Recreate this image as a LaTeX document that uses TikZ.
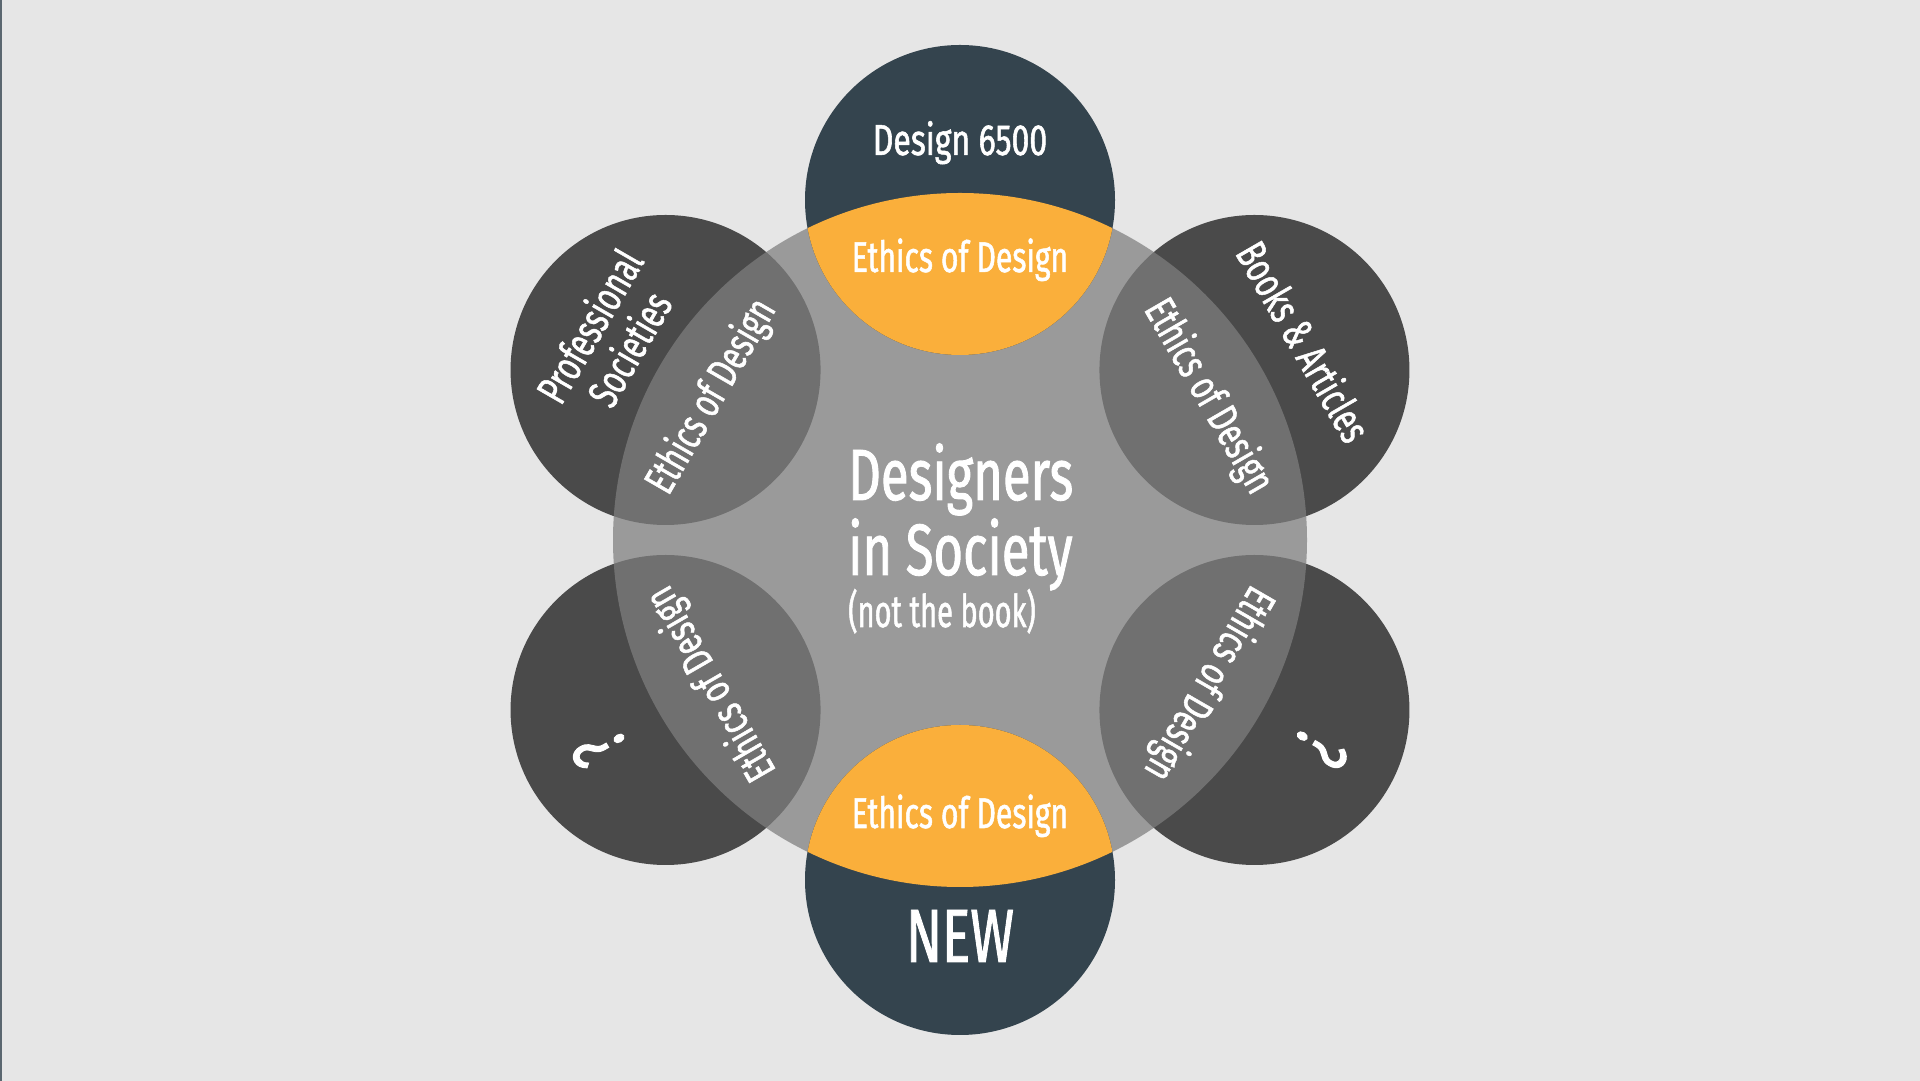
\documentclass[tikz,border=0pt]{standalone}
\usepackage{fontspec}
\setmainfont[FakeStretch=0.70,FakeBold=1.2]{Fira Sans}
\usepackage{graphicx}
\usetikzlibrary{calc}
\definecolor{bg}{HTML}{E6E6E6}
\definecolor{slate}{HTML}{34444E}
\definecolor{dgray}{HTML}{4A4A4A}
\definecolor{mgray}{HTML}{7F7F7F}
\definecolor{gold}{HTML}{FAAF3B}
\definecolor{edgeline}{HTML}{5B6770}
\begin{document}
\begin{tikzpicture}[x=1pt,y=1pt,
  lbl/.style={text=white, inner sep=0pt, font=\fontsize{43}{43}\selectfont, text height=29.5pt, text depth=0pt},
  big/.style={text=white, inner sep=0pt, font=\fontsize{72.6}{72.6}\selectfont},
  qm/.style={text=white, inner sep=0pt, font=\fontsize{78}{78}\selectfont, text height=54pt, text depth=0pt}]
\fill[bg] (0,0) rectangle (1920,1081);
\useasboundingbox (0,0) rectangle (1920,1081);
\fill[edgeline] (0,0) rectangle (1.5,1081);
\coordinate (M) at (960,541);
\foreach \n/\a in {T/90,UR/30,LR/-30,B/-90,LL/-150,UL/150}
  \coordinate (c\n) at ($(M)+(\a:340pt)$);
\foreach \n in {UR,LR,LL,UL}
  \fill[dgray] (c\n) circle[radius=155pt];
\fill[mgray, fill opacity=0.73] (M) circle[radius=347pt];
\fill[slate] (cT) circle[radius=155pt];
\fill[slate] (cB) circle[radius=155pt];
\begin{scope}
  \clip (M) circle[radius=347pt];
  \fill[gold] (cT) circle[radius=155pt];
  \fill[gold] (cB) circle[radius=155pt];
\end{scope}
% top and bottom
\node[lbl, anchor=base, text height=30pt, font=\fontsize{43.5}{43.5}\selectfont] (d6500) at (960,926) {\scalebox{1.05}[1]{Design 6500}};
\node[lbl, anchor=base] (eT) at (960,809) {Ethics of Design};
\node[lbl, anchor=base] (eB) at (960,253) {Ethics of Design};
\node[lbl, anchor=base, text height=52pt, font=\fontsize{75.5}{75.5}\selectfont] (new) at (960,119) {NEW};
% sides
\node[lbl, rotate=60] (eUL) at ($(cUL)+(150:-51pt)$) {Ethics of Design};
\node[lbl, rotate=60] (prof) at ($(cUL)+(150:87pt)$) {Professional};
\node[lbl, rotate=60] (soc) at ($(cUL)+(150:41pt)$) {Societies};
\node[lbl, rotate=-60] (eUR) at ($(cUR)+(30:-51pt)$) {Ethics of Design};
\node[lbl, rotate=-60] (books) at ($(cUR)+(30:56pt)$) {Books \& Articles};
\node[lbl, rotate=-120] (eLR) at ($(cLR)+(-30:-51pt)$) {Ethics of Design};
\node[qm, rotate=-120] (qLR) at ($(cLR)+(-30:77pt)$) {?};
\node[lbl, rotate=120] (eLL) at ($(cLL)+(210:-51pt)$) {Ethics of Design};
\node[qm, rotate=120] (qLL) at ($(cLL)+(210:77pt)$) {?};
% centre
\node[big, anchor=base west] (l1) at (848,581) {Designers};
\node[big, anchor=base west] (l2) at (848,506) {in Society};
\node[big, anchor=base west, font=\fontsize{45}{45}\selectfont] (l3) at (848,454) {\scalebox{0.92}[1]{(not the book)}};
\end{tikzpicture}
\end{document}
